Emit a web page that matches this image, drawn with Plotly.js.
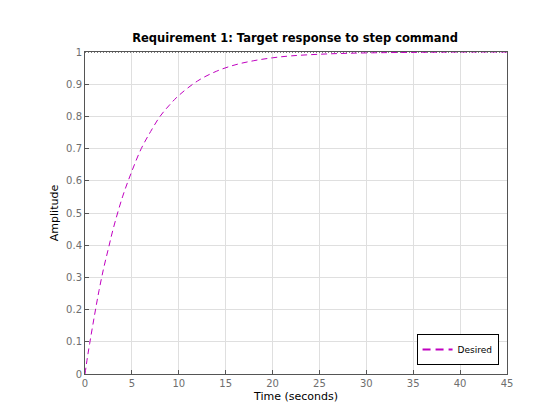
<!DOCTYPE html>
<html><head><meta charset="utf-8">
<script src="https://cdn.plot.ly/plotly-3.0.1.min.js"></script>
<style>html,body{margin:0;padding:0;background:#fff}#chart{width:560px;height:420px}</style>
</head><body><div id="chart"></div>
<script>
// Values
const timeSec = [0, 0.25, 0.5, 1, 1.5, 2, 2.5, 3, 4, 5, 6, 7, 8, 9, 10, 12, 14, 16, 18, 20, 22, 25, 28, 32, 36, 40, 45];
const desiredAmp = [0, 0.05, 0.095, 0.18, 0.26, 0.33, 0.39, 0.45, 0.55, 0.63, 0.70, 0.753, 0.80, 0.835, 0.865, 0.91, 0.94, 0.96, 0.973, 0.982, 0.988, 0.993, 0.996, 0.998, 0.999, 1.0, 1.0];
const limitTime = [0, 45];
const limitAmp = [1, 1];
const xTicks = [0, 5, 10, 15, 20, 25, 30, 35, 40, 45];
const yTicks = [0, 0.1, 0.2, 0.3, 0.4, 0.5, 0.6, 0.7, 0.8, 0.9, 1];
const seriesName = 'Desired';

const font = "DejaVu Sans, sans-serif";
const magenta = '#c000c0';
const traces = [
  {x: limitTime, y: limitAmp, mode: 'lines', line: {color: '#000', width: 1, dash: '1px,2px'}, showlegend: false, hoverinfo: 'skip'},
  {x: timeSec, y: desiredAmp, mode: 'lines', name: seriesName, showlegend: false, line: {color: magenta, width: 1, dash: '6px,4px', shape: 'spline'}},
  // legend entry (MATLAB draws the legend sample thicker)
  {x: [null], y: [null], mode: 'lines', name: seriesName, line: {color: magenta, width: 2, dash: '8px,5px'}}
];
const axisCommon = {
  showgrid: true, gridcolor: '#dfdfdf', gridwidth: 1,
  showline: true, linecolor: '#555', linewidth: 1, mirror: true,
  ticks: 'inside', ticklen: 4, tickcolor: '#555',
  tickfont: {family: font, size: 10, color: '#6e6e6e'},
  zeroline: false, tickmode: 'array'
};
const layout = {
  width: 560, height: 420,
  margin: {l: 85, r: 53, t: 52, b: 46},
  paper_bgcolor: '#fff', plot_bgcolor: '#fff',
  title: {text: '<b>Requirement 1: Target response to step command</b>', font: {family: font, size: 11.5, color: '#000'}, x: 0.527, xanchor: 'center', y: 0.909, yanchor: 'middle'},
  xaxis: Object.assign({}, axisCommon, {range: [0, 45], tickvals: xTicks, ticktext: xTicks.map(String),
    title: {text: 'Time (seconds)', font: {family: font, size: 11, color: '#000'}, standoff: 4}}),
  yaxis: Object.assign({}, axisCommon, {range: [0, 1], tickvals: yTicks, ticktext: yTicks.map(String),
    title: {text: 'Amplitude', font: {family: font, size: 11, color: '#000'}, standoff: 5}}),
  showlegend: true,
  legend: {x: 0.98, y: 0.028, xanchor: 'right', yanchor: 'bottom', bgcolor: '#fff', bordercolor: '#000', borderwidth: 1,
    font: {family: font, size: 9, color: '#000'}, itemwidth: 30, tracegroupgap: 0}
};
Plotly.newPlot('chart', traces, layout, {displayModeBar: false, staticPlot: true});
</script></body></html>
